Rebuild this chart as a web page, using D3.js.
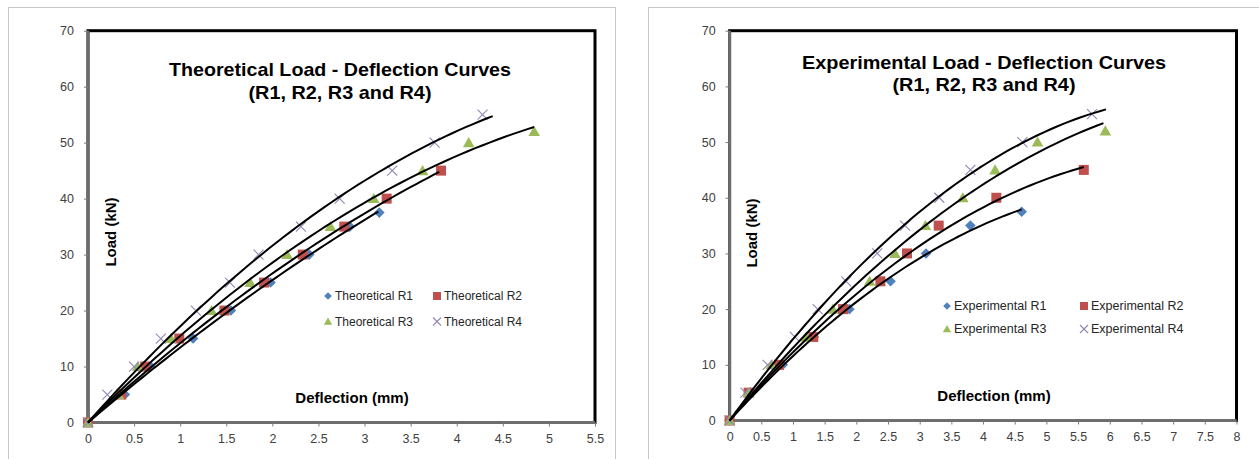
<!DOCTYPE html>
<html><head><meta charset="utf-8">
<script src="https://cdn.jsdelivr.net/npm/d3@7"></script>
<style>body{margin:0;background:#fff;} svg{display:block;}</style>
</head><body>
<svg id="c" width="1259" height="459"></svg>
<script>
// ---- data ----
const loadR1 = [0,5,10,15,20,25,30,35,37.5];
const loadR2 = [0,5,10,15,20,25,30,35,40,45];
const loadR3 = [0,5,10,15,20,25,30,35,40,45,50,52];
const loadR4 = [0,5,10,15,20,25,30,35,40,45,50,55];

const theoR1 = [0,0.40,0.68,1.14,1.55,1.98,2.40,2.84,3.16];
const theoR2 = [0,0.36,0.62,0.99,1.48,1.91,2.33,2.78,3.24,3.83];
const theoR3 = [0,0.33,0.54,0.90,1.34,1.76,2.16,2.63,3.10,3.63,4.13,4.84];
const theoR4 = [0,0.21,0.50,0.79,1.17,1.54,1.85,2.31,2.73,3.30,3.76,4.28];
const theoTrendEnd = [3.15,3.81,4.84,4.39];

const expR1 = [0,0.33,0.84,1.33,1.89,2.54,3.10,3.80,4.61];
const expR2 = [0,0.30,0.78,1.32,1.79,2.38,2.80,3.30,4.21,5.59];
const expR3 = [0,0.30,0.66,1.21,1.63,2.21,2.61,3.09,3.68,4.19,4.86,5.93];
const expR4 = [0,0.25,0.60,1.03,1.39,1.84,2.33,2.77,3.31,3.80,4.62,5.72];
const expTrendEnd = [4.61,5.59,5.90,5.94];

const yTicks = [0,10,20,30,40,50,60,70];
const theoXTicks = [0,0.5,1,1.5,2,2.5,3,3.5,4,4.5,5,5.5];
const expXTicks = [0,0.5,1,1.5,2,2.5,3,3.5,4,4.5,5,5.5,6,6.5,7,7.5,8];
const theoNames = ["Theoretical R1","Theoretical R2","Theoretical R3","Theoretical R4"];
const expNames = ["Experimental R1","Experimental R2","Experimental R3","Experimental R4"];
const titleLines = ["Load - Deflection Curves","(R1, R2, R3 and R4)"];

const colors = ["#4F81BD","#C0504D","#9BBB59","#9386B4"];
const shapes = ["diamond","square","triangle","x"];

const svg = d3.select("#c");

// least squares quadratic through origin (Excel-like trendline)
function fit(xs, ys){
  let s2=0,s3=0,s4=0,sxy=0,sx2y=0;
  xs.forEach((x,i)=>{const y=ys[i];s2+=x*x;s3+=x*x*x;s4+=x*x*x*x;sxy+=x*y;sx2y+=x*x*y;});
  const det=s2*s4-s3*s3;
  return {a:(sxy*s4-s3*sx2y)/det, b:(s2*sx2y-s3*sxy)/det};
}

function markerPath(shape, r){
  if(shape==="diamond") return `M0,${-r}L${r},0L0,${r}L${-r},0Z`;
  if(shape==="square") return `M${-r},${-r}H${r}V${r}H${-r}Z`;
  if(shape==="triangle") return `M0,${-r*1.05}L${r*1.1},${r*0.85}L${-r*1.1},${r*0.85}Z`;
  return `M${-r},${-r}L${r},${r}M${r},${-r}L${-r},${r}`;
}
function drawMarker(g, shape, color, x, y, r){
  const p = g.append("path").attr("d", markerPath(shape,r)).attr("transform",`translate(${x},${y})`);
  if(shape==="x") p.attr("fill","none").attr("stroke",color).attr("stroke-width",1.1);
  else p.attr("fill",color);
}

function drawChart(o){
  const g = svg.append("g");
  g.append("rect").attr("x",o.box[0]+0.5).attr("y",o.box[1]+0.5).attr("width",o.box[2]).attr("height",o.box[3])
    .attr("fill","#fff").attr("stroke","#c6c6c6").attr("stroke-width",1);

  const x = d3.scaleLinear().domain([0,o.xmax]).range([o.px0,o.px1]);
  const y = d3.scaleLinear().domain([0,70]).range([o.py0,o.py1]);

  g.append("rect").attr("x",o.px0).attr("y",o.py1).attr("width",o.px1-o.px0).attr("height",o.py0-o.py1)
    .attr("fill","none").attr("stroke","#000").attr("stroke-width",3);

  const yAxis = d3.axisLeft(y).tickValues(yTicks).tickSize(4).tickPadding(10).tickFormat(d3.format("d"));
  const xAxis = d3.axisBottom(x).tickValues(o.xTicks).tickSize(4).tickPadding(8).tickFormat(d=>String(d));
  const ya = g.append("g").attr("transform",`translate(${o.px0},0)`).call(yAxis);
  const xa = g.append("g").attr("transform",`translate(0,${o.py0})`).call(xAxis);
  [ya,xa].forEach(a=>{
    a.select(".domain").attr("stroke","#6e6e6e").attr("stroke-width",3);
    a.selectAll(".tick line").attr("stroke","#7a7a7a").attr("stroke-width",1);
    a.selectAll(".tick text").attr("fill","#404040").style("font-family","'Liberation Sans',Arial,sans-serif").style("font-size","12.5px");
  });
  ya.select(".domain").attr("d",`M0,${o.py0+1.5}V${o.py1}`);
  xa.select(".domain").attr("d",`M${o.px0-1.5},0H${o.px1}`);

  o.series.forEach((s,i)=>{
    s.d.forEach((dv,j)=>{
      drawMarker(g, shapes[i], colors[i], x(dv), y(s.l[j]), shapes[i]==="square"?5:(shapes[i]==="x"?5:5.3));
    });
  });
  o.series.forEach((s,i)=>{
    const f = fit(s.d, s.l);
    const end = o.trendEnd[i];
    const pts = d3.range(0, 61).map(k=>{const xv=end*k/60;return [x(xv), y(f.a*xv+f.b*xv*xv)];});
    g.append("path").attr("d", d3.line()(pts)).attr("fill","none").attr("stroke","#000").attr("stroke-width",2);
  });

  const tf = "'Liberation Sans',Arial,sans-serif";
  g.append("text").attr("x",o.tcx).attr("y",o.ty1).attr("text-anchor","middle")
    .style("font-family",tf).style("font-weight","bold").style("font-size","19px")
    .attr("textLength",o.tw1).attr("lengthAdjust","spacingAndGlyphs").text(o.prefix+" "+titleLines[0]);
  g.append("text").attr("x",o.tcx).attr("y",o.ty2).attr("text-anchor","middle")
    .style("font-family",tf).style("font-weight","bold").style("font-size","19px")
    .attr("textLength",o.tw2).attr("lengthAdjust","spacingAndGlyphs").text(titleLines[1]);

  g.append("text").attr("transform",`translate(${o.ylx},${o.yly}) rotate(-90)`).attr("text-anchor","middle")
    .attr("dy","0.35em").style("font-family",tf).style("font-weight","bold").style("font-size","15px").text("Load (kN)");
  g.append("text").attr("x",o.xlx).attr("y",o.xly).attr("text-anchor","middle").attr("dy","0.35em")
    .style("font-family",tf).style("font-weight","bold").style("font-size","15px").text("Deflection (mm)");

  o.names.forEach((n,i)=>{
    const lx = o.legX[i%2], ly = o.legY[Math.floor(i/2)];
    drawMarker(g, shapes[i], colors[i], lx, ly, shapes[i]==="x"?4:(shapes[i]==="square"?4:3.8));
    g.append("text").attr("x",lx+7).attr("y",ly).attr("dy","0.35em")
      .style("font-family",tf).style("font-size",o.legFont).attr("fill","#262626").text(n);
  });
}

drawChart({
  box:[8,7,607,470], px0:88, px1:595, py0:422.5, py1:30.7, xmax:5.5, xTicks:theoXTicks,
  series:[{d:theoR1,l:loadR1},{d:theoR2,l:loadR2},{d:theoR3,l:loadR3},{d:theoR4,l:loadR4}],
  trendEnd: theoTrendEnd, prefix:"Theoretical", tcx:340, ty1:76, ty2:99, tw1:342, tw2:183,
  ylx:111, yly:232, xlx:352, xly:398, names:theoNames, legX:[328,437], legY:[296,321.5], legFont:"12px"
});
drawChart({
  box:[648,7,640,470], px0:729.6, px1:1236.5, py0:420.5, py1:30.7, xmax:8, xTicks:expXTicks,
  series:[{d:expR1,l:loadR1},{d:expR2,l:loadR2},{d:expR3,l:loadR3},{d:expR4,l:loadR4}],
  trendEnd: expTrendEnd, prefix:"Experimental", tcx:984, ty1:69, ty2:91, tw1:364, tw2:183,
  ylx:752, yly:233, xlx:994, xly:396, names:expNames, legX:[947,1084], legY:[306,329], legFont:"12.5px"
});
</script>
</body></html>
